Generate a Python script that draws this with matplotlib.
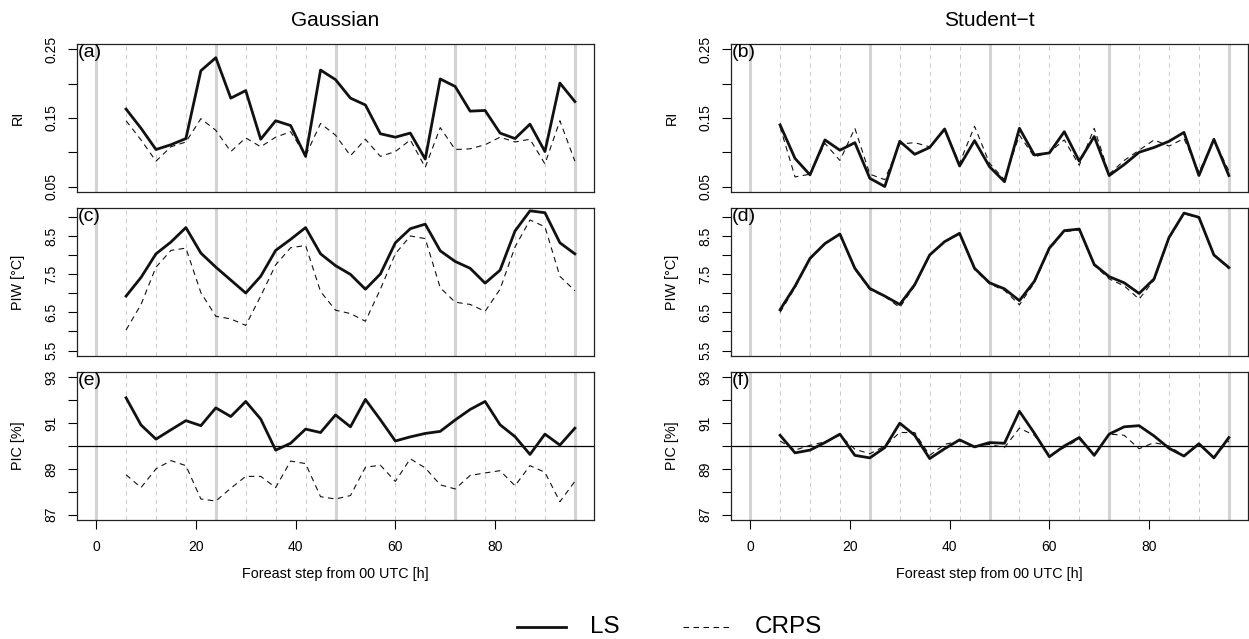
import numpy as np
import matplotlib
matplotlib.use("Agg")
import matplotlib.pyplot as plt
from matplotlib.lines import Line2D

plt.rcParams['font.family'] = ['Liberation Sans', 'DejaVu Sans']

# forecast steps (h)
hours = [6, 9, 12, 15, 18, 21, 24, 27, 30, 33, 36, 39, 42, 45, 48, 51,
         54, 57, 60, 63, 66, 69, 72, 75, 78, 81, 84, 87, 90, 93, 96]

# Gaussian
ri_gauss_ls = [0.163, 0.135, 0.104, 0.111, 0.120, 0.219, 0.238, 0.179, 0.190, 0.119, 0.146,
               0.139, 0.094, 0.220, 0.206, 0.179, 0.169, 0.127, 0.122, 0.128, 0.090, 0.207,
               0.196, 0.160, 0.161, 0.128, 0.120, 0.141, 0.101, 0.201, 0.174]
ri_gauss_crps = [0.146, 0.118, 0.087, 0.108, 0.115, 0.149, 0.132, 0.101, 0.121, 0.108, 0.122,
                 0.130, 0.095, 0.142, 0.125, 0.095, 0.119, 0.094, 0.101, 0.118, 0.078, 0.136,
                 0.104, 0.105, 0.111, 0.122, 0.115, 0.119, 0.083, 0.146, 0.087]
piw_gauss_ls = [6.93, 7.42, 8.04, 8.35, 8.73, 8.06, 7.69, 7.35, 7.01, 7.45, 8.13,
                8.42, 8.73, 8.04, 7.73, 7.50, 7.11, 7.51, 8.33, 8.70, 8.82, 8.12,
                7.84, 7.66, 7.27, 7.61, 8.64, 9.17, 9.12, 8.33, 8.04]
piw_gauss_crps = [6.04, 6.71, 7.69, 8.13, 8.19, 7.02, 6.40, 6.33, 6.16, 6.93, 7.75,
                  8.20, 8.26, 7.05, 6.56, 6.47, 6.27, 7.11, 8.04, 8.51, 8.44, 7.15,
                  6.77, 6.71, 6.53, 7.11, 8.22, 8.93, 8.75, 7.45, 7.07]
pic_gauss_ls = [92.11, 90.92, 90.30, 90.71, 91.11, 90.89, 91.67, 91.29, 91.95, 91.18, 89.82,
                90.12, 90.74, 90.59, 91.36, 90.84, 92.04, 91.15, 90.22, 90.40, 90.55, 90.64,
                91.14, 91.60, 91.95, 90.93, 90.41, 89.63, 90.52, 90.04, 90.78]
pic_gauss_crps = [88.74, 88.18, 89.00, 89.36, 89.14, 87.68, 87.59, 88.15, 88.67, 88.67, 88.18,
                  89.34, 89.23, 87.78, 87.68, 87.83, 89.07, 89.16, 88.45, 89.44, 89.04, 88.30,
                  88.12, 88.71, 88.82, 88.92, 88.26, 89.14, 88.85, 87.56, 88.45]

# Student-t
ri_t_ls = [0.140, 0.091, 0.067, 0.118, 0.103, 0.114, 0.062, 0.050, 0.116, 0.097, 0.107,
           0.134, 0.080, 0.117, 0.079, 0.057, 0.135, 0.096, 0.099, 0.130, 0.087, 0.123,
           0.066, 0.082, 0.100, 0.107, 0.116, 0.129, 0.066, 0.119, 0.066]
ri_t_crps = [0.137, 0.064, 0.068, 0.113, 0.088, 0.135, 0.068, 0.060, 0.112, 0.114, 0.108,
             0.132, 0.084, 0.138, 0.084, 0.060, 0.125, 0.093, 0.100, 0.118, 0.081, 0.135,
             0.068, 0.088, 0.103, 0.118, 0.109, 0.120, 0.071, 0.118, 0.073]
piw_t_ls = [6.57, 7.19, 7.92, 8.31, 8.56, 7.66, 7.13, 6.93, 6.71, 7.23, 8.01,
            8.36, 8.58, 7.66, 7.28, 7.12, 6.81, 7.32, 8.19, 8.65, 8.69, 7.76,
            7.44, 7.28, 7.00, 7.38, 8.47, 9.11, 9.00, 8.01, 7.68]
piw_t_crps = [6.50, 7.15, 7.90, 8.30, 8.55, 7.63, 7.10, 6.92, 6.63, 7.20, 8.00,
              8.35, 8.56, 7.63, 7.25, 7.08, 6.70, 7.28, 8.16, 8.62, 8.67, 7.74,
              7.38, 7.20, 6.85, 7.35, 8.44, 9.10, 8.98, 8.00, 7.65]
pic_t_ls = [90.47, 89.70, 89.82, 90.15, 90.52, 89.59, 89.48, 89.93, 91.00, 90.47, 89.45,
            89.88, 90.27, 89.96, 90.15, 90.12, 91.52, 90.56, 89.53, 90.00, 90.37, 89.59,
            90.52, 90.84, 90.89, 90.44, 89.90, 89.56, 90.10, 89.48, 90.37]
pic_t_crps = [90.22, 89.82, 90.03, 90.18, 90.47, 89.86, 89.66, 90.00, 90.59, 90.59, 89.59,
              90.07, 90.22, 90.00, 90.07, 89.93, 90.78, 90.47, 89.59, 89.93, 90.30, 89.63,
              90.52, 90.47, 89.88, 90.15, 90.00, 89.56, 90.07, 89.53, 90.22]

col_titles = ['Gaussian', 'Student\u2212t']
row_labels = ['RI', 'PIW [\u00b0C]', 'PIC [%]']
panel_tags = [['(a)', '(b)'], ['(c)', '(d)'], ['(e)', '(f)']]

ri_ticks = [0.05, 0.10, 0.15, 0.20, 0.25]
ri_ticklabels = ['0.05', '', '0.15', '', '0.25']
piw_ticks = [5.5, 6.0, 6.5, 7.0, 7.5, 8.0, 8.5, 9.0]
piw_ticklabels = ['5.5', '', '6.5', '', '7.5', '', '8.5', '']
pic_ticks = [87, 88, 89, 90, 91, 92, 93]
pic_ticklabels = ['87', '', '89', '', '91', '', '93']
x_ticks = [0, 20, 40, 60, 80]

series = [
    [(ri_gauss_ls, ri_gauss_crps), (ri_t_ls, ri_t_crps)],
    [(piw_gauss_ls, piw_gauss_crps), (piw_t_ls, piw_t_crps)],
    [(pic_gauss_ls, pic_gauss_crps), (pic_t_ls, pic_t_crps)],
]
yticks = [(ri_ticks, ri_ticklabels), (piw_ticks, piw_ticklabels), (pic_ticks, pic_ticklabels)]
ylims = [(0.05, 0.25), (5.5, 9.1), (87, 93)]


def r_range(lo, hi):
    # R style 4% axis extension
    d = 0.04 * (hi - lo)
    return lo - d, hi + d


W, H = 1249, 639
fig = plt.figure(figsize=(W / 100, H / 100), dpi=100)

col_left = [77, 731]
box_w = 517
row_top = [44, 208, 372]
box_h = 148

for r in range(3):
    for c in range(2):
        ax = fig.add_axes([col_left[c] / W, (H - row_top[r] - box_h) / H, box_w / W, box_h / H])

        # guide lines every 6 h, solid at full days
        for h in range(0, 97, 6):
            if h % 24 == 0:
                ax.axvline(h, color='#d3d3d3', lw=2.2, zorder=1)
            else:
                ax.axvline(h, color='#cccccc', lw=0.75, ls=(0, (4, 4)), zorder=1)

        if r == 2:
            ax.axhline(90, color='black', lw=0.9, zorder=2)

        ls_vals, crps_vals = series[r][c]
        ax.plot(hours, crps_vals, color='#111111', lw=0.8, ls=(0, (5, 4)), zorder=3)
        ax.plot(hours, ls_vals, color='#111111', lw=2.0, zorder=4)

        ax.set_xlim(r_range(0, 96))
        ax.set_ylim(r_range(*ylims[r]))

        tk, tl = yticks[r]
        ax.set_yticks(tk)
        ax.set_yticklabels(tl)
        ax.tick_params(axis='y', direction='out', length=6.5, width=0.8, pad=7, labelsize=10)
        for lbl in ax.get_yticklabels():
            lbl.set_rotation(90)
            lbl.set_va('center')
            lbl.set_ha('right')

        if r == 2:
            ax.set_xticks(x_ticks)
            ax.tick_params(axis='x', direction='out', length=6.5, width=0.8, pad=8, labelsize=10)
            ax.set_xlabel('Foreast step from 00 UTC [h]', fontsize=10.4, labelpad=9)
        else:
            ax.set_xticks([])

        for s in ax.spines.values():
            s.set_linewidth(0.9)
            s.set_color('#222222')

        ax.text(0.002, 1.0, panel_tags[r][c], transform=ax.transAxes,
                ha='left', va='top', fontsize=14)
        ax.text(-0.115, 0.5, row_labels[r], transform=ax.transAxes, rotation=90,
                ha='center', va='center', fontsize=10.4)

        if r == 0:
            fig.text((col_left[c] + box_w / 2) / W, (H - 26) / H, col_titles[c],
                     ha='center', va='baseline', fontsize=15)

# legend at the bottom
ly = (H - 627) / H
fig.add_artist(Line2D([517 / W, 566 / W], [ly, ly], color='#111111', lw=2.0))
fig.text(590 / W, ly, 'LS', ha='left', va='center', fontsize=17.5)
fig.add_artist(Line2D([683 / W, 732 / W], [ly, ly], color='#111111', lw=0.8, ls=(0, (5, 4))))
fig.text(755 / W, ly, 'CRPS', ha='left', va='center', fontsize=17.5)

fig.savefig('out.png', dpi=100)
